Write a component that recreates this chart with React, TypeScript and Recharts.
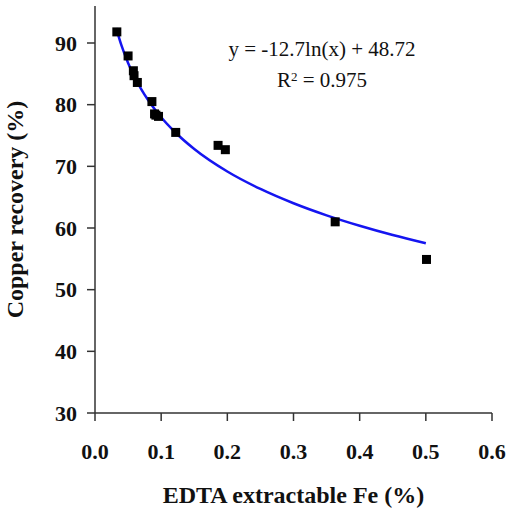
import React from 'react';
import { ComposedChart, Scatter, Line, XAxis, YAxis, Label } from 'recharts';

const edtaFe = [0.033, 0.05, 0.058, 0.059, 0.064, 0.086, 0.09, 0.092, 0.096, 0.122, 0.186, 0.197, 0.363, 0.501];
const copperRecovery = [91.8, 87.9, 85.5, 84.7, 83.6, 80.5, 78.5, 78.3, 78.1, 75.5, 73.4, 72.7, 61.0, 54.9];

const trendFe = [0.032, 0.04, 0.05, 0.06, 0.07, 0.08, 0.1, 0.12, 0.15, 0.2, 0.25, 0.3, 0.35, 0.4, 0.45, 0.5];
const trendRecovery = [92.43, 89.6, 86.77, 84.45, 82.49, 80.8, 77.96, 75.65, 72.81, 69.16, 66.33, 64.01, 62.05, 60.36, 58.86, 57.52];

const xTicks = [0, 0.1, 0.2, 0.3, 0.4, 0.5, 0.6];
const yTicks = [30, 40, 50, 60, 70, 80, 90];

const points = edtaFe.map((x, i) => ({ x, y: copperRecovery[i] }));
const trend = trendFe.map((x, i) => ({ x, y: trendRecovery[i] }));

const FONT = "'Times New Roman', Times, 'Liberation Serif', 'DejaVu Serif', serif";

const Square = (props: any) => {
  const { cx, cy } = props;
  if (cx == null || cy == null) return null;
  return <rect x={cx - 4.5} y={cy - 4.5} width={9} height={9} fill="#000" />;
};

export default function App() {
  const tickStyle = { fontFamily: FONT, fontSize: 22, fontWeight: 700, fill: '#111' };
  return (
    <div style={{ position: 'absolute', left: 0, top: 0, width: 510, height: 512, background: '#fff', fontFamily: FONT }}>
      <ComposedChart width={510} height={512} margin={{ top: 6, right: 18, left: 0, bottom: 0 }} style={{ fontFamily: FONT }}>
        <XAxis
          xAxisId="b"
          dataKey="x"
          type="number"
          domain={[0, 0.6]}
          ticks={xTicks}
          tickFormatter={(v: number) => v.toFixed(1)}
          height={99}
          stroke="#333"
          strokeWidth={1.5}
          tickSize={8}
          tick={tickStyle}
          tickMargin={22}
          allowDataOverflow
        >
          <Label
            value="EDTA extractable Fe (%)"
            position="insideBottom"
            offset={9}
            style={{ fontFamily: FONT, fontSize: 24, fontWeight: 700, fill: '#111' }}
          />
        </XAxis>
        <XAxis xAxisId="t" type="number" orientation="top" domain={[0, 0.6]} height={0} tick={false} tickLine={false} stroke="#555" strokeWidth={1.5} />
        <YAxis
          yAxisId="l"
          type="number"
          domain={[30, 96]}
          ticks={yTicks}
          width={95}
          stroke="#333"
          strokeWidth={1.5}
          tickSize={8}
          tick={tickStyle}
          tickMargin={10}
          allowDataOverflow
        >
          <Label
            value="Copper recovery (%)"
            angle={-90}
            position="insideLeft"
            offset={14}
            style={{ fontFamily: FONT, fontSize: 24, fontWeight: 700, fill: '#111', textAnchor: 'middle' }}
          />
        </YAxis>
        <YAxis yAxisId="r" type="number" orientation="right" domain={[30, 96]} width={0} tick={false} tickLine={false} stroke="#555" strokeWidth={1.5} />
        <Line
          xAxisId="b"
          yAxisId="l"
          data={trend}
          dataKey="y"
          type="monotone"
          stroke="#1515f0"
          strokeWidth={2.5}
          dot={false}
          isAnimationActive={false}
        />
        <Scatter xAxisId="b" yAxisId="l" data={points} dataKey="y" fill="#000" shape={<Square />} isAnimationActive={false} />
      </ComposedChart>
      <div style={{ position: 'absolute', left: 222, top: 34, width: 200, textAlign: 'center', fontFamily: FONT, fontSize: 21, color: '#111', lineHeight: '31px' }}>
        <div>y = -12.7ln(x) + 48.72</div>
        <div>R<sup style={{ fontSize: 13, verticalAlign: 'top', position: 'relative', top: -4 }}>2</sup> = 0.975</div>
      </div>
    </div>
  );
}
